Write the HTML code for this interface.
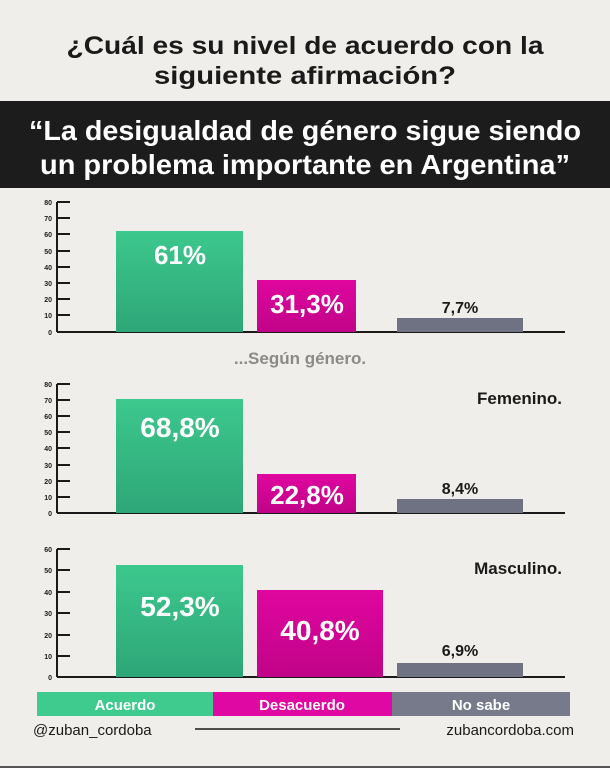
<!DOCTYPE html>
<html><head><meta charset="utf-8"><style>
html,body{margin:0;padding:0;background:#efeeea;}
svg{display:block;font-family:"Liberation Sans",sans-serif;font-weight:bold;}
</style></head><body>
<svg width="610" height="768" viewBox="0 0 610 768" xmlns="http://www.w3.org/2000/svg">
<defs>
<linearGradient id="g" x1="0" y1="0" x2="0" y2="1"><stop offset="0" stop-color="#3cc88d"/><stop offset="1" stop-color="#2ea677"/></linearGradient>
<linearGradient id="m" x1="0" y1="0" x2="0" y2="1"><stop offset="0" stop-color="#e0069f"/><stop offset="1" stop-color="#c00388"/></linearGradient>
</defs>
<rect width="610" height="768" fill="#efeeea"/>
<text x="305" y="54" text-anchor="middle" font-size="25" fill="#1a1a1a" textLength="477" lengthAdjust="spacingAndGlyphs">¿Cuál es su nivel de acuerdo con la</text>
<text x="305" y="84" text-anchor="middle" font-size="25" fill="#1a1a1a" textLength="302" lengthAdjust="spacingAndGlyphs">siguiente afirmación?</text>
<rect x="0" y="101" width="610" height="87" fill="#1c1c1c"/>
<text x="305" y="140" text-anchor="middle" font-size="28" fill="#fff" textLength="552" lengthAdjust="spacingAndGlyphs">“La desigualdad de género sigue siendo</text>
<text x="305" y="174" text-anchor="middle" font-size="28" fill="#fff" textLength="530" lengthAdjust="spacingAndGlyphs">un problema importante en Argentina”</text>

<!-- chart 1 -->
<g stroke="#1a1a1a" stroke-width="2">
<line x1="57" y1="202" x2="57" y2="332"/><line x1="57" y1="332" x2="565" y2="332"/>
<line x1="57" y1="202" x2="70" y2="202"/><line x1="57" y1="218" x2="70" y2="218"/><line x1="57" y1="234" x2="70" y2="234"/><line x1="57" y1="251" x2="70" y2="251"/><line x1="57" y1="267" x2="70" y2="267"/><line x1="57" y1="283" x2="70" y2="283"/><line x1="57" y1="299" x2="70" y2="299"/><line x1="57" y1="315" x2="70" y2="315"/>
</g>
<g font-size="7" fill="#1a1a1a" text-anchor="end">
<text x="52" y="205">80</text><text x="52" y="221">70</text><text x="52" y="237">60</text><text x="52" y="254">50</text><text x="52" y="270">40</text><text x="52" y="286">30</text><text x="52" y="302">20</text><text x="52" y="318">10</text><text x="52" y="335">0</text>
</g>
<rect x="116" y="231" width="127" height="101" fill="url(#g)"/>
<rect x="257" y="280" width="99" height="52" fill="url(#m)"/>
<rect x="397" y="318" width="126" height="14" fill="#6f7282"/>
<text x="180" y="264" text-anchor="middle" font-size="26" fill="#fff">61%</text>
<text x="307" y="313" text-anchor="middle" font-size="26" fill="#fff">31,3%</text>
<text x="460" y="313" text-anchor="middle" font-size="16" fill="#1a1a1a">7,7%</text>
<text x="300" y="364" text-anchor="middle" font-size="17" fill="#8a8a8a">...Según género.</text>

<!-- chart 2 -->
<g stroke="#1a1a1a" stroke-width="2">
<line x1="57" y1="384" x2="57" y2="513"/><line x1="57" y1="513" x2="565" y2="513"/>
<line x1="57" y1="384" x2="70" y2="384"/><line x1="57" y1="400" x2="70" y2="400"/><line x1="57" y1="416" x2="70" y2="416"/><line x1="57" y1="432" x2="70" y2="432"/><line x1="57" y1="448" x2="70" y2="448"/><line x1="57" y1="465" x2="70" y2="465"/><line x1="57" y1="481" x2="70" y2="481"/><line x1="57" y1="497" x2="70" y2="497"/>
</g>
<g font-size="7" fill="#1a1a1a" text-anchor="end">
<text x="52" y="387">80</text><text x="52" y="403">70</text><text x="52" y="419">60</text><text x="52" y="435">50</text><text x="52" y="451">40</text><text x="52" y="468">30</text><text x="52" y="484">20</text><text x="52" y="500">10</text><text x="52" y="516">0</text>
</g>
<rect x="116" y="399" width="127" height="114" fill="url(#g)"/>
<rect x="257" y="474" width="99" height="39" fill="url(#m)"/>
<rect x="397" y="499" width="126" height="14" fill="#6f7282"/>
<text x="180" y="437" text-anchor="middle" font-size="28" fill="#fff">68,8%</text>
<text x="307" y="504" text-anchor="middle" font-size="26" fill="#fff">22,8%</text>
<text x="460" y="494" text-anchor="middle" font-size="16" fill="#1a1a1a">8,4%</text>
<text x="562" y="404" text-anchor="end" font-size="17" fill="#1a1a1a">Femenino.</text>

<!-- chart 3 -->
<g stroke="#1a1a1a" stroke-width="2">
<line x1="57" y1="549" x2="57" y2="677"/><line x1="57" y1="677" x2="565" y2="677"/>
<line x1="57" y1="549" x2="70" y2="549"/><line x1="57" y1="570" x2="70" y2="570"/><line x1="57" y1="592" x2="70" y2="592"/><line x1="57" y1="613" x2="70" y2="613"/><line x1="57" y1="635" x2="70" y2="635"/><line x1="57" y1="656" x2="70" y2="656"/>
</g>
<g font-size="7" fill="#1a1a1a" text-anchor="end">
<text x="52" y="552">60</text><text x="52" y="573">50</text><text x="52" y="595">40</text><text x="52" y="616">30</text><text x="52" y="638">20</text><text x="52" y="659">10</text><text x="52" y="680">0</text>
</g>
<rect x="116" y="565" width="127" height="112" fill="url(#g)"/>
<rect x="257" y="590" width="126" height="87" fill="url(#m)"/>
<rect x="397" y="663" width="126" height="14" fill="#6f7282"/>
<text x="180" y="616" text-anchor="middle" font-size="28" fill="#fff">52,3%</text>
<text x="320" y="640" text-anchor="middle" font-size="28" fill="#fff">40,8%</text>
<text x="460" y="656" text-anchor="middle" font-size="16" fill="#1a1a1a">6,9%</text>
<text x="562" y="574" text-anchor="end" font-size="17" fill="#1a1a1a">Masculino.</text>

<!-- legend -->
<rect x="37" y="692" width="176" height="24" fill="#3fca8e"/>
<rect x="213" y="692" width="179" height="24" fill="#e008a3"/>
<rect x="392" y="692" width="178" height="24" fill="#767a8a"/>
<text x="125" y="710" text-anchor="middle" font-size="15" fill="#fff">Acuerdo</text>
<text x="302" y="710" text-anchor="middle" font-size="15" fill="#fff">Desacuerdo</text>
<text x="481" y="710" text-anchor="middle" font-size="15" fill="#fff">No sabe</text>
<text x="33" y="735" font-size="15" font-weight="normal" fill="#1a1a1a">@zuban_cordoba</text>
<line x1="195" y1="729" x2="400" y2="729" stroke="#1a1a1a" stroke-width="1.5"/>
<text x="574" y="735" text-anchor="end" font-size="15" font-weight="normal" fill="#1a1a1a">zubancordoba.com</text>
<rect x="0" y="766" width="610" height="2" fill="#555"/>
</svg>
</body></html>
